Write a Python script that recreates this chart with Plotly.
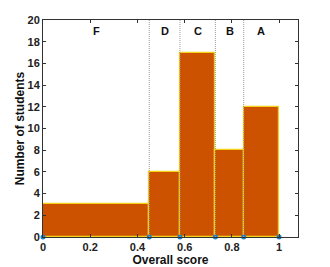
import plotly.graph_objects as go

edges = [0, 0.45, 0.58, 0.73, 0.85, 1.0]
counts = [3, 6, 17, 8, 12]
grades = ["F", "D", "C", "B", "A"]
x_ticks = [0, 0.2, 0.4, 0.6, 0.8, 1]
y_ticks = list(range(0, 21, 2))

mids = [(edges[i] + edges[i + 1]) / 2 for i in range(len(counts))]
widths = [edges[i + 1] - edges[i] for i in range(len(counts))]

fig = go.Figure()
fig.add_trace(go.Bar(
    x=mids, y=counts, width=widths,
    marker=dict(color="#CC5200", line=dict(color="#F2D21B", width=1.2)),
    showlegend=False,
))
fig.add_trace(go.Scatter(
    x=edges, y=[0] * len(edges), mode="markers",
    marker=dict(color="#1E7FCB", size=5),
    cliponaxis=False, showlegend=False,
))

for e in edges[1:-1]:
    fig.add_shape(type="line", x0=e, x1=e, y0=0, y1=20, xref="x", yref="y",
                  line=dict(color="#999999", width=1, dash="1px,1px"), layer="above")

for m, g in zip(mids, grades):
    fig.add_annotation(x=m, y=19, text="<b>" + g + "</b>", showarrow=False,
                       font=dict(family="Liberation Sans", size=11, color="#111"))

axis_common = dict(
    showline=True, linecolor="#333", linewidth=1, mirror="ticks",
    ticks="inside", ticklen=3, tickcolor="#333", showgrid=False, zeroline=False,
    automargin=False,
    tickfont=dict(family="Liberation Sans", size=11, color="#222"),
)

fig.update_layout(
    width=330, height=267,
    margin=dict(l=43, r=32, t=20, b=30),
    plot_bgcolor="white", paper_bgcolor="white",
    bargap=0,
    xaxis=dict(range=[0, 1.08], tickvals=x_ticks,
               ticktext=["<b>%s</b>" % t for t in x_ticks],
               title=dict(text="<b>Overall score</b>", standoff=0,
                          font=dict(family="Liberation Sans", size=12, color="#111")),
               **axis_common),
    yaxis=dict(range=[0, 20], tickvals=y_ticks,
               ticktext=["<b>%d</b>" % t for t in y_ticks],
               title=dict(text="<b>Number of students</b>", standoff=0,
                          font=dict(family="Liberation Sans", size=12, color="#111")),
               **axis_common),
)

fig.write_html("out.html")
